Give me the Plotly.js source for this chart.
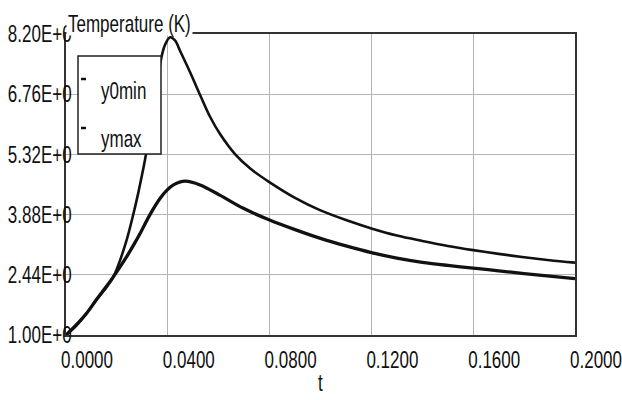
<!DOCTYPE html>
<html>
<head>
<meta charset="utf-8">
<script src="https://cdn.plot.ly/plotly-3.0.1.min.js"></script>
<style>html,body{margin:0;padding:0;background:#fff;}#chart{width:622px;height:400px;}</style>
</head>
<body>
<div id="chart"></div>
<script>
// t values and temperatures
var tUpper = [0, 0.004, 0.0081, 0.012, 0.016, 0.0186, 0.0212, 0.0239, 0.0261, 0.0284, 0.0298, 0.0311, 0.0345, 0.0376, 0.0389, 0.0409, 0.0429, 0.0448, 0.0488, 0.0527, 0.0566, 0.0606, 0.0665, 0.0724, 0.0796, 0.09, 0.10, 0.11, 0.12, 0.13, 0.14, 0.15, 0.16, 0.17, 0.18, 0.19, 0.2];
var yMax = [1.0, 1.22, 1.52, 1.85, 2.15, 2.39, 2.78, 3.29, 3.80, 4.40, 4.81, 5.21, 6.50, 7.67, 7.94, 8.12, 8.04, 7.80, 7.28, 6.74, 6.22, 5.80, 5.32, 4.98, 4.67, 4.28, 3.98, 3.75, 3.55, 3.38, 3.25, 3.13, 3.03, 2.94, 2.86, 2.79, 2.73];

var tLower = [0, 0.004, 0.0081, 0.012, 0.016, 0.0186, 0.0239, 0.0271, 0.0291, 0.033, 0.037, 0.0396, 0.0422, 0.0468, 0.0527, 0.0606, 0.0697, 0.08, 0.09, 0.10, 0.11, 0.12, 0.13, 0.14, 0.15, 0.16, 0.17, 0.18, 0.19, 0.2];
var y0Min = [1.0, 1.24, 1.52, 1.85, 2.17, 2.39, 2.88, 3.21, 3.43, 3.88, 4.27, 4.46, 4.59, 4.68, 4.59, 4.34, 4.03, 3.75, 3.52, 3.31, 3.13, 2.97, 2.84, 2.74, 2.665, 2.60, 2.535, 2.47, 2.41, 2.35];

var xTickVals = [0, 0.04, 0.08, 0.12, 0.16, 0.2];
var xTickText = ["0.0000", "0.0400", "0.0800", "0.1200", "0.1600", "0.2000"];
var yTickVals = [1.00, 2.44, 3.88, 5.32, 6.76, 8.20];
var yTickText = ["1.00E+0", "2.44E+0", "3.88E+0", "5.32E+0", "6.76E+0", "8.20E+0"];
var seriesNames = ["y0min", "ymax"];

var FONT = '"Liberation Sans", Arial, sans-serif';
var FS = 17;

var traces = [
  {x: tLower, y: y0Min, name: seriesNames[0], mode: 'lines', line: {color: '#111', width: 3.3, shape: 'spline', smoothing: 0.9}, showlegend: false},
  {x: tUpper, y: yMax, name: seriesNames[1], mode: 'lines', line: {color: '#111', width: 2.6, shape: 'spline', smoothing: 0.9}, showlegend: false}
];

function px2x(px) { return (px - 66) / 509; }
function px2y(py) { return (335 - py) / 301; }

var layout = {
  width: 622, height: 400,
  margin: {l: 66, r: 47, t: 34, b: 65},
  paper_bgcolor: '#fff', plot_bgcolor: '#fff',
  font: {family: FONT, size: FS, color: '#111'},
  showlegend: false,
  xaxis: {
    range: [0, 0.2], tickvals: xTickVals, ticktext: xTickText,
    showgrid: true, gridcolor: '#b4b4b4', gridwidth: 1, zeroline: false,
    showline: true, linecolor: '#333', linewidth: 2, mirror: true,
    ticks: '', ticklabelshift: 21, ticklabelstandoff: 8, ticklabeloverflow: 'allow',
    tickfont: {family: FONT, size: FS, color: '#111'},
    title: {text: 't', font: {family: FONT, size: FS, color: '#111'}, standoff: 9}
  },
  yaxis: {
    range: [1.0, 8.2], tickvals: yTickVals, ticktext: yTickText,
    showgrid: true, gridcolor: '#b4b4b4', gridwidth: 1, zeroline: false,
    showline: true, linecolor: '#333', linewidth: 2, mirror: true,
    ticks: '', ticklabelstandoff: -11, ticklabeloverflow: 'allow',
    tickfont: {family: FONT, size: FS, color: '#111'}
  },
  shapes: [
    {type: 'rect', xref: 'paper', yref: 'paper', x0: px2x(78), x1: px2x(161), y0: px2y(154), y1: px2y(56),
     fillcolor: '#fff', line: {color: '#222', width: 1.5}, layer: 'above'},
    {type: 'line', xref: 'paper', yref: 'paper', x0: px2x(81), x1: px2x(86), y0: px2y(79), y1: px2y(79),
     line: {color: '#111', width: 2.5}, layer: 'above'},
    {type: 'line', xref: 'paper', yref: 'paper', x0: px2x(81), x1: px2x(86), y0: px2y(128), y1: px2y(128),
     line: {color: '#111', width: 2.5}, layer: 'above'}
  ],
  annotations: [
    {xref: 'paper', yref: 'paper', x: px2x(66), y: px2y(24), xanchor: 'left', yanchor: 'middle',
     text: 'Temperature (K)', showarrow: false, bgcolor: '#fff', borderpad: 1,
     font: {family: FONT, size: FS, color: '#111'}},
    {xref: 'paper', yref: 'paper', x: px2x(99), y: px2y(91), xanchor: 'left', yanchor: 'middle',
     text: seriesNames[0], showarrow: false, font: {family: FONT, size: FS, color: '#111'}},
    {xref: 'paper', yref: 'paper', x: px2x(99), y: px2y(139), xanchor: 'left', yanchor: 'middle',
     text: seriesNames[1], showarrow: false, font: {family: FONT, size: FS, color: '#111'}}
  ]
};

// The reference's lettering is tall and narrow: stretch every text vertically about its own centre.
function stretchTexts(gd, factor) {
  var texts = gd.querySelectorAll('svg text');
  texts.forEach(function (t) {
    var bb;
    try { bb = t.getBBox(); } catch (e) { return; }
    if (!bb || !bb.height) return;
    var cy = bb.y + bb.height / 2;
    var tr = t.getAttribute('transform') || '';
    t.setAttribute('transform', tr + ' translate(0,' + cy + ') scale(1,' + factor + ') translate(0,' + (-cy) + ')');
  });
}

Plotly.newPlot('chart', traces, layout, {staticPlot: true, displayModeBar: false}).then(function (gd) {
  stretchTexts(gd, 1.4);
});
</script>
</body>
</html>
